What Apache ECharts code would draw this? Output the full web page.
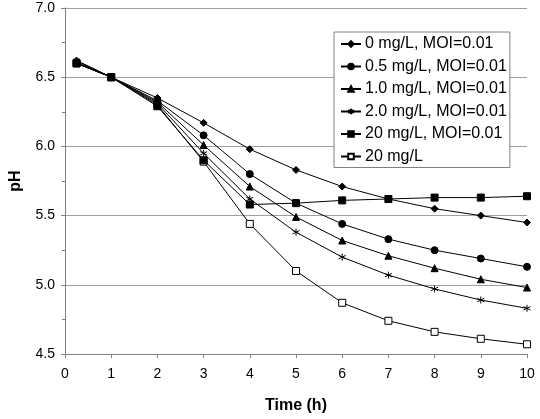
<!DOCTYPE html>
<html><head><meta charset="utf-8">
<script src="https://cdn.jsdelivr.net/npm/echarts@6/dist/echarts.min.js"></script>
<style>html,body{margin:0;padding:0;background:#fff}#c{width:540px;height:419px}</style>
</head><body><div id="c"></div>
<script>
var times = [0.25, 1, 2, 3, 4, 5, 6, 7, 8, 9, 10];
var names = ['0 mg/L, MOI=0.01','0.5 mg/L, MOI=0.01','1.0 mg/L, MOI=0.01','2.0 mg/L, MOI=0.01','20 mg/L, MOI=0.01','20 mg/L'];
var s0   = [6.62, 6.50, 6.35, 6.17, 5.98, 5.83, 5.71, 5.62, 5.55, 5.50, 5.45];
var s05  = [6.60, 6.50, 6.33, 6.08, 5.80, 5.59, 5.44, 5.33, 5.25, 5.19, 5.13];
var s10  = [6.61, 6.50, 6.32, 6.01, 5.71, 5.49, 5.32, 5.21, 5.12, 5.04, 4.98];
var s20  = [6.62, 6.50, 6.31, 5.95, 5.62, 5.38, 5.20, 5.07, 4.97, 4.89, 4.83];
var s200 = [6.60, 6.50, 6.29, 5.90, 5.58, 5.59, 5.61, 5.62, 5.63, 5.63, 5.64];
var s20c = [6.60, 6.50, 6.30, 5.89, 5.44, 5.10, 4.87, 4.74, 4.66, 4.61, 4.57];
var yTicks = [4.5, 5.0, 5.5, 6.0, 6.5, 7.0];
var xTicks = [0,1,2,3,4,5,6,7,8,9,10];

var symbols = ['diamond','circle','triangle','path://M0,-10L0,10M-8.66,-5L8.66,5M-8.66,5L8.66,-5','rect','rect'];
var sizes = [7,7,7,7,7,7];
var fills = ['#000','#000','#000','#000','#000','#fff'];
var all = [s0,s05,s10,s20,s200,s20c];
var series = all.map(function(vals,i){
  return {
    name: names[i], type:'line',
    data: vals.map(function(v,j){return [times[j], v];}),
    symbol: symbols[i], symbolSize: sizes[i], showAllSymbol:true,
    lineStyle:{color:'#000', width:1},
    itemStyle:{color:fills[i], borderColor:'#000', borderWidth:1},
    emphasis:{disabled:true}, animation:false, z: 10-i
  };
});
var chart = echarts.init(document.getElementById('c'));
chart.setOption({
  animation:false,
  backgroundColor:'#fff',
  grid:{left:52, right:13, top:8, bottom:55},
  legend:{
    orient:'vertical', left:334, top:32, data:names,
    backgroundColor:'#fff', borderColor:'#808080', borderWidth:1,
    padding:[4,3,3,6], itemGap:6.5, itemWidth:20, itemHeight:7,
    textStyle:{fontFamily:'Liberation Sans, Arial', fontSize:16, color:'#000', padding:[0,0,0,-1]}
  },
  xAxis:{
    type:'value', min:0, max:10, interval:1,
    name:'Time (h)', nameLocation:'middle', nameGap:44,
    nameTextStyle:{fontFamily:'Liberation Sans, Arial', fontWeight:'bold', fontSize:16, color:'#000'},
    axisLine:{lineStyle:{color:'#808080'}},
    axisTick:{show:true, length:4, lineStyle:{color:'#808080'}},
    axisLabel:{fontFamily:'Liberation Sans, Arial', fontSize:14, color:'#000', margin:13},
    splitLine:{show:false}
  },
  yAxis:{
    type:'value', min:4.5, max:7.0, interval:0.5,
    name:'pH', nameLocation:'middle', nameGap:41, nameRotate:90,
    nameTextStyle:{fontFamily:'Liberation Sans, Arial', fontWeight:'bold', fontSize:16, color:'#000'},
    axisLine:{show:true, lineStyle:{color:'#808080'}},
    axisTick:{show:true, length:4, lineStyle:{color:'#808080'}},
    minorTick:{show:true, splitNumber:2, length:3, lineStyle:{color:'#808080'}},
    axisLabel:{fontFamily:'Liberation Sans, Arial', fontSize:14, color:'#000', margin:10,
      formatter:function(v){return v.toFixed(1);}},
    splitLine:{show:true, lineStyle:{color:'#a0a0a0', width:1}}
  },
  series: series
});
</script></body></html>
